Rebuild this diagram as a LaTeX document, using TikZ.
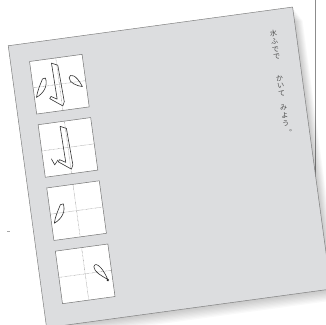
\documentclass[tikz,border=0pt]{standalone}
\usepackage{fontspec}
\newfontfamily\cjk{Noto Sans CJK JP}
\begin{document}
\begin{tikzpicture}[x=1pt,y=1pt,
  sheetfill/.style={fill=sheetgray, draw=black!50, line width=0.5pt},
  cell/.style={draw=black!55, fill=white, line width=0.5pt, minimum size=53pt, inner sep=0pt, transform shape},
  guide/.style={draw=black!40, line width=0.45pt, dash pattern=on 0.6pt off 0.7pt},
  strk/.style={draw=black!80, line width=0.6pt, line join=round},
  jtext/.style={font=\cjk\fontsize{7}{8}\selectfont, text=black!70, inner sep=0pt, transform shape}]
\definecolor{sheetgray}{HTML}{DCDDDF}
\useasboundingbox (0,0) rectangle (326,324);
% paper behind
\fill[white] (0,0) rectangle (326,324);
\draw[black!45, line width=0.5pt] (315,324) -- (315,90);
% tiny mark at left
\draw[black!35, line width=0.5pt] (7,93) -- (10,93);
\begin{scope}[shift={(169.5,157.3)}, rotate=7.75, transform shape]
  % soft shadow
  \foreach \k in {1,...,9}
    \fill[black, opacity=0.022] (-143.5+\k*0.4,-143-\k*1.3) rectangle (143.5+\k*0.9,141.6-\k*1.6);
  \path[sheetfill] (-143.5,-143) rectangle (143.5,141.6);
  % vertical text
  \foreach \ch/\vv [count=\i] in {水/118.1,ふ/110.1,で/102.1,で/94.1,か/72.9,い/64.9,て/56.9,み/43.4,よ/35.4,う/27.4}
    \node[jtext] (t\i) at (121,\vv) {\ch};
  \node[jtext] (t11) at (127,19.3) {。};
  % box 1
  \begin{scope}[shift={(-98,96.6)}]
    \node[cell] (b1) at (0,0) {};
    \draw[guide] (b1.north) -- (b1.south);
    \draw[guide] (b1.west) -- (b1.east);
    \draw[strk] (-5,22) -- (1,19) -- (2.5,-18) -- (0.5,-22) -- (-11.5,-13) -- (-10,-11) -- (-4.2,-14.5) -- cycle;
    \draw[strk] (-13,8) .. controls (-11.5,0.5) and (-16,-6.5) .. (-24.5,-10) .. controls (-22.5,-3) and (-18.5,3) .. (-16,7.5) -- cycle;
    \draw[strk] (10.5,5) .. controls (11.5,9.5) and (18,7.5) .. (22.5,-5.5) .. controls (17,-4) and (10,0) .. (10.5,5) -- cycle;
  \end{scope}
  % box 2
  \begin{scope}[shift={(-98,32.8)}]
    \node[cell] (b2) at (0,0) {};
    \draw[guide] (b2.north) -- (b2.south);
    \draw[guide] (b2.west) -- (b2.east);
    \draw[strk] (-5,22) -- (1,19) -- (2.5,-18) -- (0.5,-22) -- (-11.5,-13) -- (-10,-11) -- (-4.2,-14.5) -- cycle;
    \draw[strk] (-18,-9) -- (-15.5,-15.5) -- (-11.5,-11);
  \end{scope}
  % box 3
  \begin{scope}[shift={(-98,-31)}]
    \node[cell] (b3) at (0,0) {};
    \draw[guide] (b3.north) -- (b3.south);
    \draw[guide] (b3.west) -- (b3.east);
    \draw[strk] (-12.3,8.5) .. controls (-10.8,1) and (-15.3,-6) .. (-23.8,-9.5) .. controls (-21.8,-2.5) and (-17.8,3.5) .. (-15.3,8) -- cycle;
  \end{scope}
  % box 4
  \begin{scope}[shift={(-98,-94.8)}]
    \node[cell] (b4) at (0,0) {};
    \draw[guide] (b4.north) -- (b4.south);
    \draw[guide] (b4.west) -- (b4.east);
    \draw[strk] (9.5,6) .. controls (10.5,10.5) and (17.5,7) .. (21.5,-8.5) .. controls (16.5,-4.5) and (9,0.5) .. (9.5,6) -- cycle;
    \fill[black!85] (21.6,-9.2) circle (1.3);
  \end{scope}
\end{scope}
\end{tikzpicture}
\end{document}
